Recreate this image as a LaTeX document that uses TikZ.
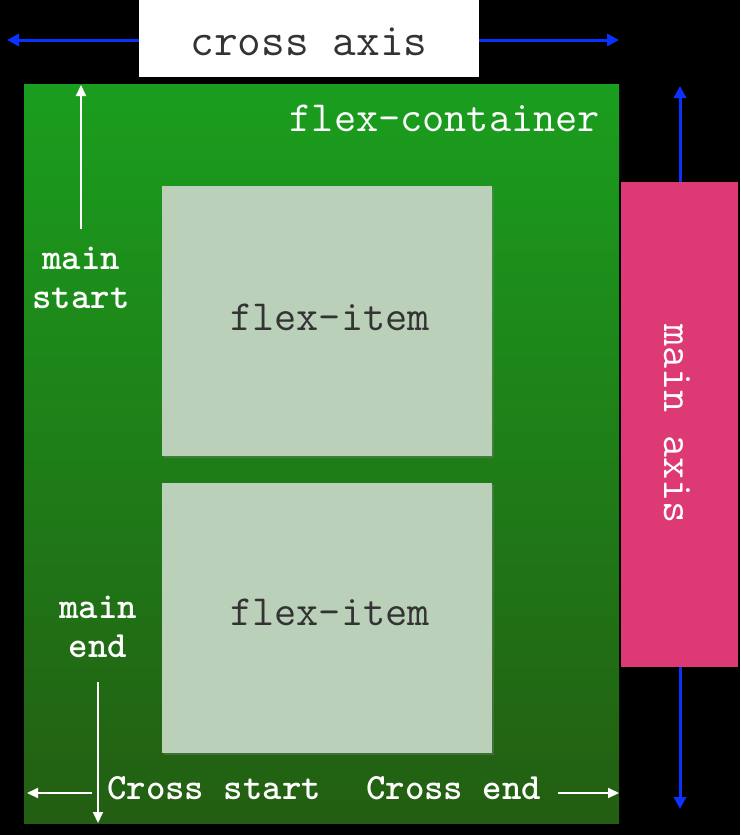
\documentclass[tikz,border=0pt]{standalone}
\usepackage{fontspec}
\usetikzlibrary{positioning,arrows.meta,shadows}
\definecolor{topgreen}{RGB}{26,158,30}
\definecolor{botgreen}{RGB}{35,94,18}
\definecolor{itemcol}{RGB}{187,208,185}
\definecolor{axispink}{RGB}{221,58,117}
\definecolor{axisblue}{RGB}{10,50,255}
\definecolor{itemtext}{RGB}{51,51,51}

\begin{document}
\begin{tikzpicture}[
  x=1pt, y=-1pt,
  every node/.style={inner sep=0pt},
  big/.style={font=\fontsize{43}{46}\selectfont\ttfamily},
  lbl/.style={font=\fontsize{37}{39}\selectfont\ttfamily\bfseries, text=white, align=center},
  item/.style={fill=itemcol, minimum width=330pt, minimum height=270pt,
    drop shadow={shadow xshift=1.5pt, shadow yshift=-2pt, opacity=0.35}},
  barr/.style={-{Triangle[length=12pt, width=12pt]}, line width=3pt, axisblue},
  warr/.style={-{Triangle[length=11pt, width=10pt]}, line width=2pt, white}
]
\fill[black] (0,0) rectangle (740,835);
\useasboundingbox (0,0) rectangle (740,835);

% ---------------- container ----------------
\node[anchor=north west, minimum width=595pt, minimum height=739pt,
      top color=topgreen, bottom color=botgreen] (container) at (24,84) {};
\node[big, text=white, anchor=east] (contlabel) at (600,118) {flex-container};

% ---------------- items ----------------
\node[item, anchor=north west] (item1) at (162,186) {};
\node[item, anchor=north west] (item2) at (162,483) {};
\node[big, text=itemtext] (item1label) at (330,317) {flex-item};
\node[big, text=itemtext] (item2label) at (330,612) {flex-item};

% ---------------- cross axis ----------------
\node[fill=white, minimum width=340pt, minimum height=77pt, anchor=north west] (crossaxis) at (139,0) {};
\node[big, font=\fontsize{46}{48}\selectfont\ttfamily, text=itemtext] (crosslabel) at (309,42) {cross axis};
\coordinate (caleft) at (7,40);
\coordinate (caright) at (619,40);
\draw[barr] (crossaxis.west|-caleft) -- (caleft);
\draw[barr] (crossaxis.east|-caright) -- (caright);

% ---------------- main axis ----------------
\node[fill=axispink, minimum width=117pt, minimum height=485pt, anchor=north west] (mainaxis) at (621,182) {};
\node[big, text=white, rotate=-90] (mainlabel) at (677,424) {main axis};
\coordinate (matop) at (680,86);
\coordinate (mabot) at (680,809);
\draw[barr] (mainaxis.north-|matop) -- (matop);
\draw[barr] (mainaxis.south-|mabot) -- (mabot);

% ---------------- start / end labels ----------------
\node[lbl] (mainstart) at (81,278) {main\\start};
\coordinate (mstop) at (81,85);
\draw[warr] ([yshift=18pt]mainstart.north) -- (mstop);

\node[lbl] (mainend) at (98,627) {main\\end};
\coordinate (mebot) at (98,823);
\draw[warr] ([yshift=-24pt]mainend.south) -- (mebot);

\node[lbl, anchor=west] (crossstart) at (107,788) {Cross start};
\node[lbl, anchor=west] (crossend) at (366,788) {Cross end};
\coordinate (csleft) at (27,793);
\coordinate (ceright) at (619,793);
\draw[warr] ([xshift=-15pt]crossstart.west|-csleft) -- (csleft);
\draw[warr] ([xshift=17pt]crossend.east|-ceright) -- (ceright);
\end{tikzpicture}
\end{document}
